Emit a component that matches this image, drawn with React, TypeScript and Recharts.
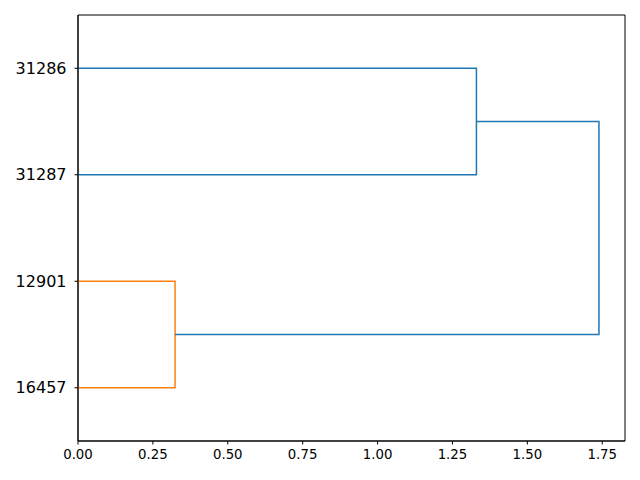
import React from 'react';
import { ComposedChart, Line, XAxis, YAxis, ReferenceArea } from 'recharts';

// Leaf labels (bottom to top), placed at y = 5, 15, 25, 35 (scipy convention)
const leafLabels = ['16457', '12901', '31287', '31286'];
const leafPositions = [5, 15, 25, 35];
const xTicks = [0, 0.25, 0.5, 0.75, 1.0, 1.25, 1.5, 1.75];

// Link segments: [x, y] points of each U-shaped link
const orangeLink = [
  { x: 0, y: 5 },
  { x: 0.324, y: 5 },
  { x: 0.324, y: 15 },
  { x: 0, y: 15 },
];
const blueUpperLink = [
  { x: 0, y: 35 },
  { x: 1.33, y: 35 },
  { x: 1.33, y: 25 },
  { x: 0, y: 25 },
];
const blueTopLink = [
  { x: 0.324, y: 10 },
  { x: 1.739, y: 10 },
  { x: 1.739, y: 30 },
  { x: 1.33, y: 30 },
];

const xMax = 1.739 * 1.05;

export default function App() {
  const font = 'DejaVu Sans, sans-serif';
  return (
    <div style={{ position: 'absolute', left: 0, top: 0 }}>
      <ComposedChart
        width={640}
        height={480}
        margin={{ top: 15, right: 15, left: 0, bottom: 0 }}
        style={{ background: '#fff' }}
      >
        <XAxis
          type="number"
          dataKey="x"
          domain={[0, xMax]}
          ticks={xTicks}
          allowDataOverflow
          height={39}
          tickSize={3.5}
          tickMargin={5}
          tickFormatter={(v: number) => v.toFixed(2)}
          tick={{ fontSize: 13.3, fill: '#000', fontFamily: font }}
          axisLine={{ stroke: '#000', strokeWidth: 1 }}
          tickLine={{ stroke: '#000', strokeWidth: 1 }}
        />
        <YAxis
          type="number"
          dataKey="y"
          domain={[0, 40]}
          ticks={leafPositions}
          width={78}
          tickSize={3.5}
          tickMargin={8}
          tickFormatter={(v: number) => leafLabels[leafPositions.indexOf(v)] ?? ''}
          tick={{ fontSize: 16, fill: '#000', fontFamily: font }}
          axisLine={{ stroke: '#000', strokeWidth: 1 }}
          tickLine={{ stroke: '#000', strokeWidth: 1 }}
        />
        <ReferenceArea x1={0} x2={xMax} y1={0} y2={40} fill="none" stroke="#000" strokeWidth={1} ifOverflow="visible" />
        <Line data={orangeLink} dataKey="y" type="linear" stroke="#ff7f0e" strokeWidth={1.5} dot={false} isAnimationActive={false} />
        <Line data={blueUpperLink} dataKey="y" type="linear" stroke="#1f77b4" strokeWidth={1.5} dot={false} isAnimationActive={false} />
        <Line data={blueTopLink} dataKey="y" type="linear" stroke="#1f77b4" strokeWidth={1.5} dot={false} isAnimationActive={false} />
      </ComposedChart>
    </div>
  );
}
